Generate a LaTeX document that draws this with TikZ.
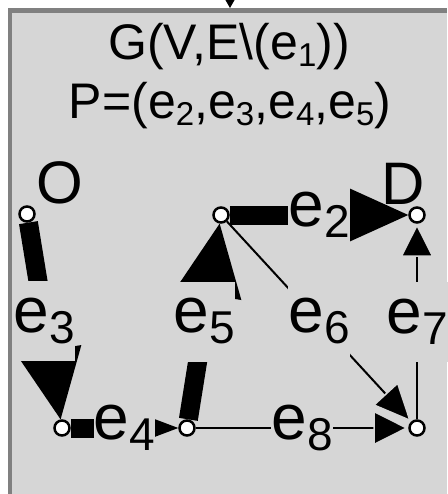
\documentclass[tikz,border=0pt]{standalone}
\usepackage{fontspec}
\setmainfont{Liberation Sans}
\usetikzlibrary{arrows.meta}
\definecolor{boxgray}{RGB}{214,214,214}
\definecolor{framegray}{RGB}{128,128,128}
\newcommand{\tsub}[1]{\raisebox{-7pt}{\fontsize{33}{33}\selectfont #1}}
\newcommand{\lsub}[1]{\raisebox{-11pt}{\fontsize{46}{46}\selectfont #1}}
\pgfdeclarelayer{bg}
\pgfsetlayers{bg,main}
\begin{document}
\begin{tikzpicture}[x=1pt,y=-1pt,
  vtx/.style={circle,draw=black,fill=white,line width=2.5pt,minimum size=15pt,inner sep=0pt},
  thickedge/.style={line width=19pt},
  thinedge/.style={line width=2.5pt},
  lbl/.style={fill=boxgray,inner xsep=0pt,inner ysep=0pt,minimum height=80pt,font=\fontsize{64}{70}\selectfont},
  ttl/.style={anchor=base,inner sep=0pt,font=\fontsize{50}{55}\selectfont},
  big/.style={inner sep=0pt,font=\fontsize{60}{66}\selectfont},
  thintip/.style={-{Triangle[length=#1,width=#1,line width=1.5pt,color=boxgray,fill=black]}}
]
\useasboundingbox (0,0) rectangle (447,494);
% vertices
\node[vtx] (O) at (27,214) {};
\node[vtx] (A) at (221,215) {};
\node[vtx] (D) at (417,215) {};
\node[vtx] (BL) at (62,428) {};
\node[vtx] (BM) at (187,428) {};
\node[vtx] (BR) at (417,428) {};
\node[big] (lO) at (60,183) {O};
\node[big] (lD) at (403,184) {D};
% title
\node[ttl] (t1) at (229,60) {G(V,E\textbackslash(e\tsub{1}))};
\node[ttl] (t2) at (230,119) {P=(e\tsub{2},e\tsub{3},e\tsub{4},e\tsub{5})};
% incoming arrow at top
\coordinate (src) at (230,-30);
\coordinate (dst) at (230,8);
\draw[line width=1pt,-{Triangle[length=9pt,width=10pt]}] (src) -- (dst);
\begin{pgfonlayer}{bg}
  \fill[boxgray] (8,8) rectangle (447,494);
  \fill[framegray] (8,8) rectangle (447,13);
  \fill[framegray] (8,8) rectangle (12,494);
  % edges
  \draw[thickedge,-{Triangle[length=75pt,width=68pt,line width=0pt]}] (A) -- (D);
  \draw[thickedge,-{Triangle[length=70pt,width=65pt,line width=0pt]}] (O) -- (BL);
  \draw[thickedge,-{Triangle[length=45pt,width=34pt,line width=0pt]}] (BL) -- (BM);
  \draw[thickedge,-{Triangle[length=72pt,width=67pt,line width=0pt]}] (BM) -- (A);
  \draw[line width=2pt,-{Triangle[length=38pt,width=34pt,line width=1.5pt,color=boxgray,fill=black]}] (A) -- (BR);
  \draw[thinedge,thintip=33pt] (BR) -- (D);
  \draw[thinedge,thintip=35pt] (BM) -- (BR);
  % labels
  \path (A) -- node[lbl] (e2) {e\lsub{2}} (D);
  \path (O) -- node[lbl] (e3) {e\lsub{3}} (BL);
  \path (BL) -- node[lbl] (e4) {e\lsub{4}} (BM);
  \path (BM) -- node[lbl] (e5) {e\lsub{5}} (A);
  \path (A) -- node[lbl] (e6) {e\lsub{6}} (BR);
  \path (BR) -- node[lbl] (e7) {e\lsub{7}} (D);
  \path (BM) -- node[lbl] (e8) {e\lsub{8}} (BR);
\end{pgfonlayer}
\end{tikzpicture}
\end{document}
